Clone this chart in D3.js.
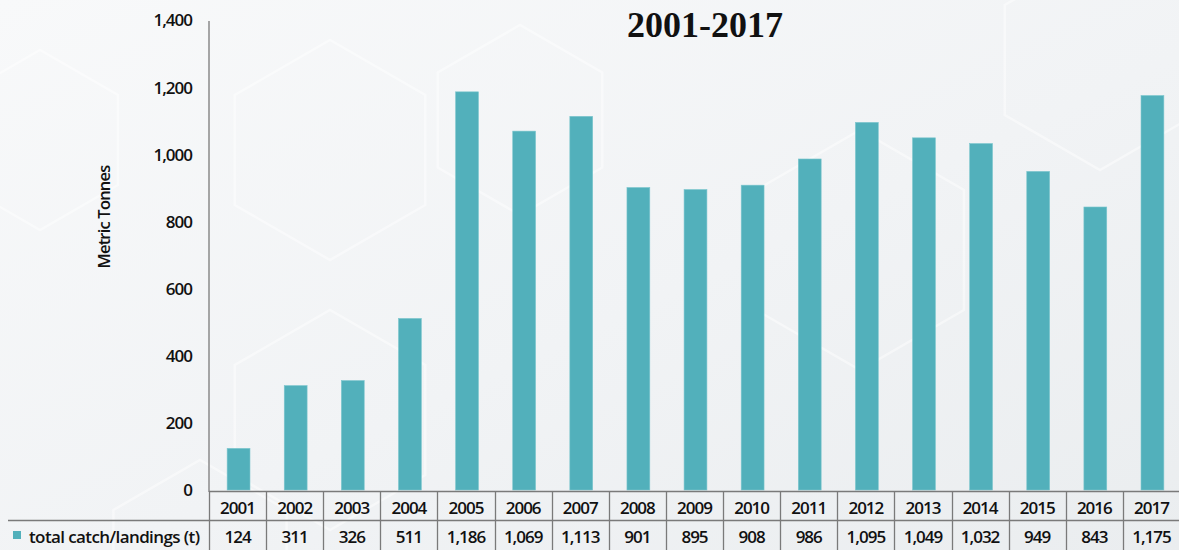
<!DOCTYPE html>
<html>
<head>
<meta charset="utf-8">
<script src="https://cdn.jsdelivr.net/npm/d3@7"></script>
<style>
  html, body { margin: 0; padding: 0; background: #f3f5f7; }
  svg { display: block; }
  text { font-family: "Open Sans", "Noto Sans", sans-serif; fill: #111; }
</style>
</head>
<body>
<svg id="chart" width="1179" height="550"></svg>
<script>
const years = ["2001","2002","2003","2004","2005","2006","2007","2008","2009","2010","2011","2012","2013","2014","2015","2016","2017"];
const values = [124, 311, 326, 511, 1186, 1069, 1113, 901, 895, 908, 986, 1095, 1049, 1032, 949, 843, 1175];
const valueLabels = ["124","311","326","511","1,186","1,069","1,113","901","895","908","986","1,095","1,049","1,032","949","843","1,175"];
const yTicks = [0, 200, 400, 600, 800, 1000, 1200, 1400];
const seriesName = "total catch/landings (t)";
const yTitle = "Metric Tonnes";
const chartTitle = "2001-2017";

const W = 1179, H = 550;
const svg = d3.select("#chart");

// background gradient
const defs = svg.append("defs");
const grad = defs.append("linearGradient").attr("id", "bg")
  .attr("x1", "0%").attr("y1", "0%").attr("x2", "100%").attr("y2", "100%");
grad.append("stop").attr("offset", "0%").attr("stop-color", "#f8f9fa");
grad.append("stop").attr("offset", "55%").attr("stop-color", "#f1f3f5");
grad.append("stop").attr("offset", "100%").attr("stop-color", "#eaedef");
svg.append("rect").attr("width", W).attr("height", H).attr("fill", "url(#bg)");

// faint decorative hexagons
function hexPath(cx, cy, r) {
  const pts = d3.range(6).map(i => {
    const a = Math.PI / 3 * i + Math.PI / 6;
    return [cx + r * Math.cos(a), cy + r * Math.sin(a)];
  });
  return "M" + pts.map(p => p.join(",")).join("L") + "Z";
}
const hexes = [[330, 150, 110], [520, 120, 95], [40, 140, 90], [330, 420, 110], [1100, 60, 110], [860, 250, 120], [200, 560, 100]];
svg.append("g").selectAll("path").data(hexes).join("path")
  .attr("d", d => hexPath(d[0], d[1], d[2]))
  .attr("fill", "none").attr("stroke", "#ffffff").attr("stroke-width", 2.5).attr("opacity", 0.45);

// scales
const x = d3.scaleBand().domain(years).range([209, 1180]).padding(0);
const y = d3.scaleLinear().domain([0, 1400]).range([490, 20]);
const barW = x.bandwidth() * 0.4;

// title
svg.append("text").attr("x", 705).attr("y", 37).attr("text-anchor", "middle")
  .style("font-family", "'Liberation Serif', 'DejaVu Serif', serif")
  .style("font-weight", "bold").style("font-size", "36px").text(chartTitle);

const lblStyle = sel => sel.style("font-size", "17px").style("letter-spacing", "-1px")
  .style("font-weight", "600").style("font-family", "'Open Sans', sans-serif");

// y axis
const yAxis = d3.axisLeft(y).tickValues(yTicks).tickSize(0).tickPadding(17)
  .tickFormat(d3.format(","));
const gy = svg.append("g").attr("transform", "translate(209,0)").call(yAxis);
gy.select(".domain").attr("stroke", "#8a8a8a").attr("stroke-width", 1.5)
  .attr("d", `M0,${y(1400) + 1}V492`);
gy.selectAll("text").call(lblStyle).attr("fill", "#111").attr("dy", "0.35em");

// y title
svg.append("text").attr("transform", "translate(110,217) rotate(-90)")
  .attr("text-anchor", "middle").style("font-size", "16.5px").style("letter-spacing", "-0.8px")
  .style("font-weight", "600").text(yTitle);

// bars
svg.append("g").selectAll("rect").data(values).join("rect")
  .attr("x", (d, i) => x(years[i]) + (x.bandwidth() - barW) / 2 + 1)
  .attr("y", d => y(d))
  .attr("width", barW)
  .attr("height", d => y(0) - y(d))
  .attr("fill", "#52b0bb")
  .attr("stroke", "#7cc6ce").attr("stroke-width", 0.6);

// data table
const tbl = svg.append("g");
const lineColor = "#7a7a7a";
const rowTop = 491.5, rowMid = 520.5, rowBot = 551;
tbl.append("line").attr("x1", 209).attr("x2", 1180).attr("y1", rowTop).attr("y2", rowTop)
  .attr("stroke", lineColor).attr("stroke-width", 1.3);
tbl.append("line").attr("x1", 8).attr("x2", 1180).attr("y1", rowMid).attr("y2", rowMid)
  .attr("stroke", lineColor).attr("stroke-width", 1.3);
const bounds = years.map(d => x(d)).concat([x.range()[1]]);
tbl.selectAll("line.v").data(bounds).join("line").attr("class", "v")
  .attr("x1", d => Math.round(d) + 0.5).attr("x2", d => Math.round(d) + 0.5)
  .attr("y1", rowTop).attr("y2", rowBot)
  .attr("stroke", lineColor).attr("stroke-width", 1.3);

tbl.selectAll("text.cat").data(years).join("text").attr("class", "cat")
  .attr("x", d => x(d) + x.bandwidth() / 2).attr("y", 514)
  .attr("text-anchor", "middle").call(lblStyle)
  .text(d => d);
tbl.selectAll("text.val").data(valueLabels).join("text").attr("class", "val")
  .attr("x", (d, i) => x(years[i]) + x.bandwidth() / 2).attr("y", 543)
  .attr("text-anchor", "middle").call(lblStyle)
  .text(d => d);

// legend key
tbl.append("rect").attr("x", 13).attr("y", 531).attr("width", 8).attr("height", 8).attr("fill", "#52b0bb");
tbl.append("text").attr("x", 29).attr("y", 543).call(lblStyle)
  .style("letter-spacing", "-0.6px")
  .text(seriesName);
</script>
</body>
</html>
